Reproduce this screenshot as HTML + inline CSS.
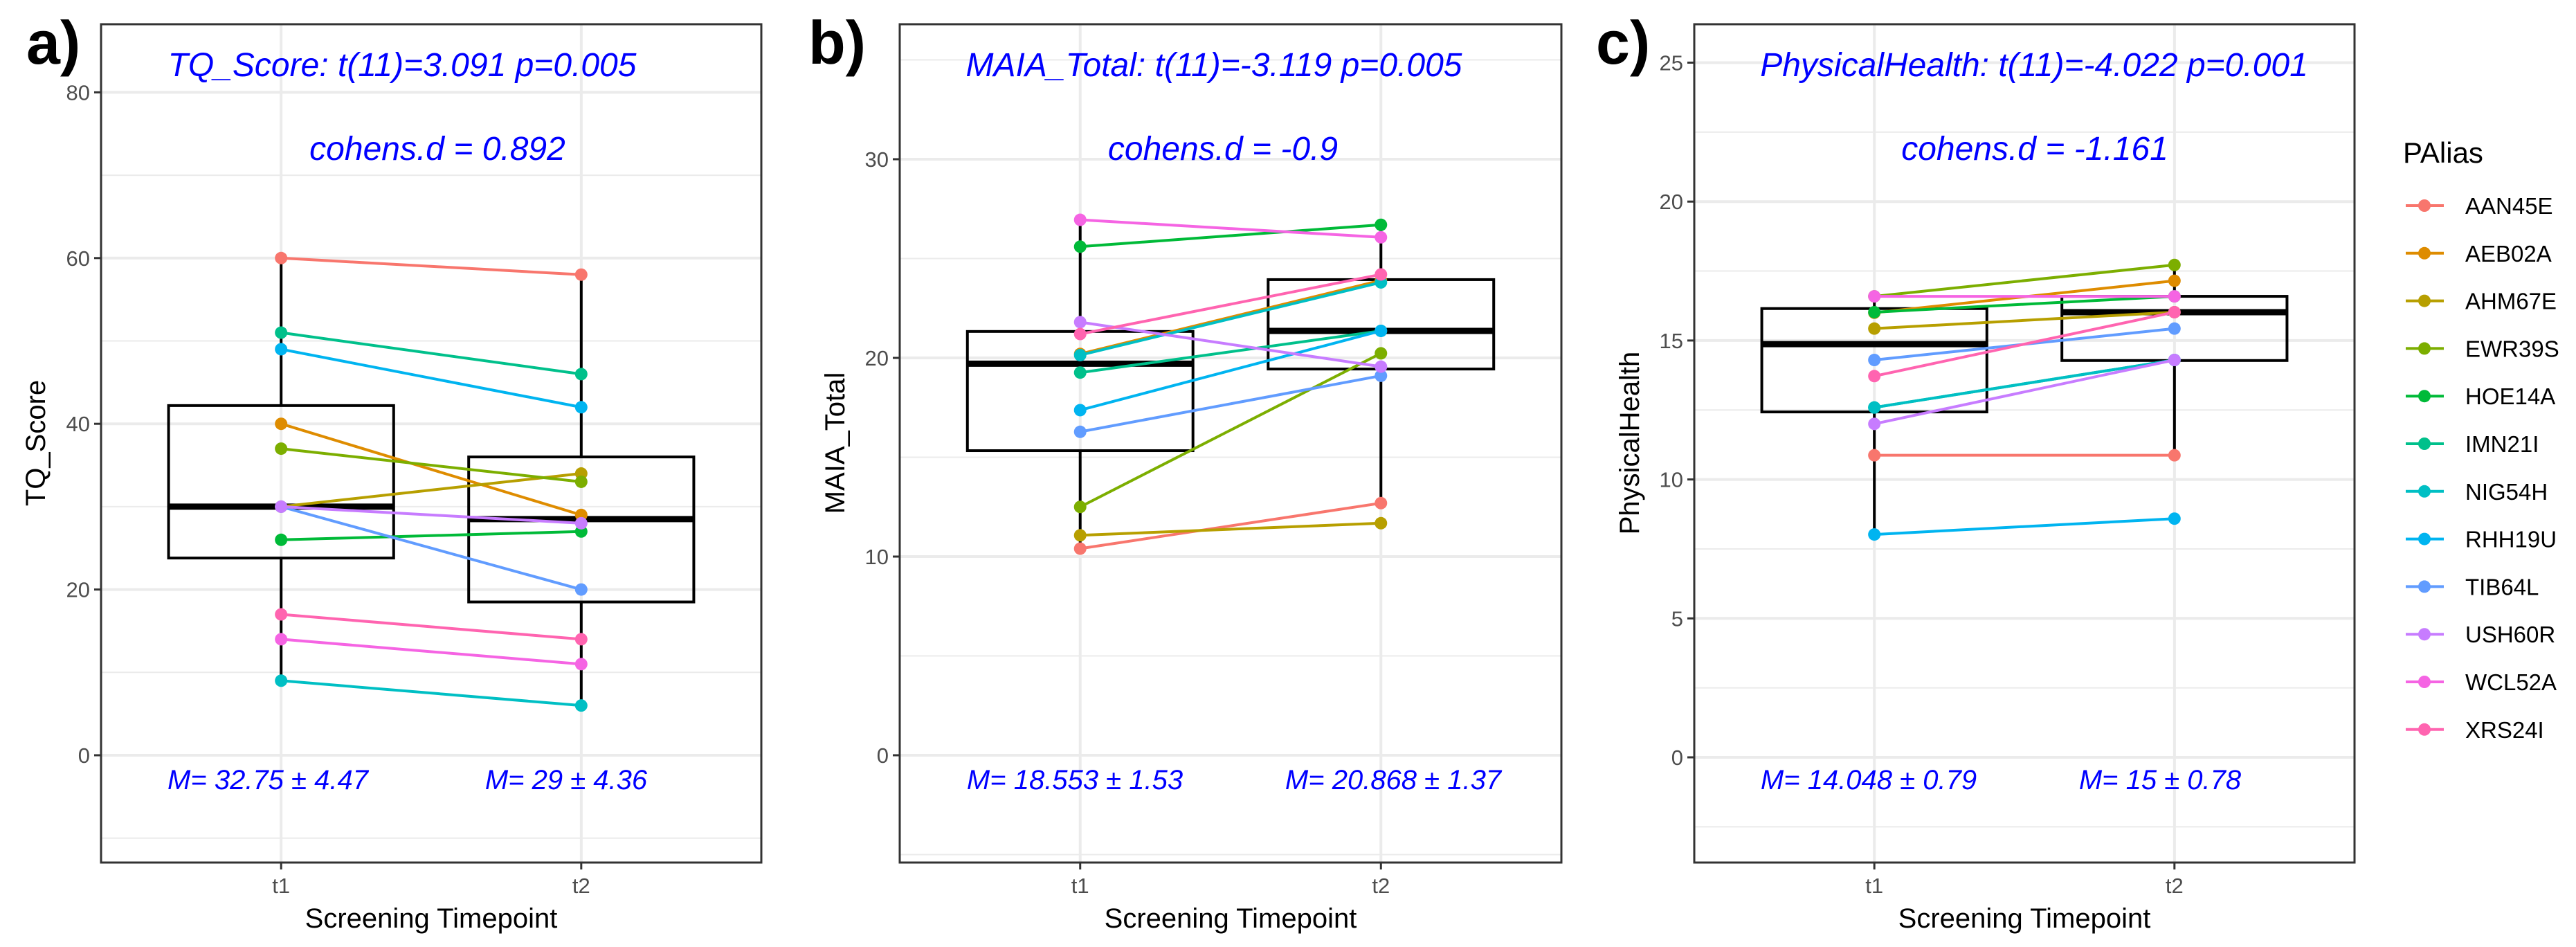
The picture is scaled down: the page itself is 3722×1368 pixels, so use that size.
<!DOCTYPE html>
<html><head><meta charset="utf-8"><style>
html,body{margin:0;padding:0;background:#fff}
svg{display:block;font-family:"Liberation Sans",Arial,sans-serif}
</style></head><body>
<svg id="chart" width="3722" height="1368" viewBox="0 0 3722 1368" xmlns="http://www.w3.org/2000/svg"></svg>
<script>
const participants=["AAN45E","AEB02A","AHM67E","EWR39S","HOE14A","IMN21I","NIG54H","RHH19U","TIB64L","USH60R","WCL52A","XRS24I"];
const colors=["#F8766D","#DE8C00","#B79F00","#7CAE00","#00BA38","#00C08B","#00BFC4","#00B4F0","#619CFF","#C77CFF","#F564E3","#FF64B0"];
const timepoints=["t1","t2"];
// Panel a: TQ_Score
const tqT1=[60,40,30,37,26,51,9,49,30,30,14,17];
const tqT2=[58,29,34,33,27,46,6,42,20,28,11,14];
const tqBox=[[9,23.8,30,42.2,60],[6,18.5,28.5,36,58]];
const tqTicks=[0,20,40,60,80];
// Panel b: MAIA_Total
const maiaT1=[10.4,20.2,11.07,12.5,25.6,19.26,20.14,17.37,16.28,21.8,26.95,21.2];
const maiaT2=[12.69,23.9,11.68,20.23,26.7,21.36,23.8,21.36,19.1,19.56,26.07,24.2];
const maiaBox=[[10.4,15.33,19.71,21.33,26.95],[12.69,19.44,21.36,23.94,26.7]];
const maiaTicks=[0,10,20,30];
// Panel c: PhysicalHealth
const phT1=[10.87,16.0,15.43,16.59,16.02,12.59,12.59,8.02,14.3,12.0,16.59,13.72];
const phT2=[10.87,17.15,16.02,17.72,16.59,14.3,14.3,8.59,15.43,14.3,16.59,16.02];
const phBox=[[8.02,12.43,14.87,16.15,16.59],[10.87,14.28,16.02,16.59,17.72]];
const phTicks=[0,5,10,15,20,25];

const NS="http://www.w3.org/2000/svg";
const svg=document.getElementById('chart');
function mk(tag,attrs,parent,txt){const e=document.createElementNS(NS,tag);for(const k in attrs)e.setAttribute(k,attrs[k]);if(txt!==undefined)e.textContent=txt;(parent||svg).appendChild(e);return e;}

const TOP=35,BOT=1246;
const panels=[
 {id:'a',label:'a)',labelX:38,left:146,right:1100,y0:1091,ppu:11.97,t1:tqT1,t2:tqT2,box:tqBox,ticks:tqTicks,minor:10,yTitle:'TQ_Score',yTitleX:51,
  title:'TQ_Score: t(11)=3.091 p=0.005',titleX:581,cohen:'cohens.d = 0.892',cohenX:632,m1:'M= 32.75 ± 4.47',m1X:387,m2:'M= 29 ± 4.36',m2X:818},
 {id:'b',label:'b)',labelX:1168,left:1300,right:2256,y0:1091,ppu:28.7,t1:maiaT1,t2:maiaT2,box:maiaBox,ticks:maiaTicks,minor:5,yTitle:'MAIA_Total',yTitleX:1206,
  title:'MAIA_Total: t(11)=-3.119 p=0.005',titleX:1754,cohen:'cohens.d = -0.9',cohenX:1767,m1:'M= 18.553 ± 1.53',m1X:1553,m2:'M= 20.868 ± 1.37',m2X:2013},
 {id:'c',label:'c)',labelX:2306,left:2448,right:3402,y0:1094,ppu:40.14,t1:phT1,t2:phT2,box:phBox,ticks:phTicks,minor:2.5,yTitle:'PhysicalHealth',yTitleX:2354,
  title:'PhysicalHealth: t(11)=-4.022 p=0.001',titleX:2939,cohen:'cohens.d = -1.161',cohenX:2940,m1:'M= 14.048 ± 0.79',m1X:2700,m2:'M= 15 ± 0.78',m2X:3121}
];

panels.forEach(p=>{
 const g=mk('g',{});
 
 
 const y=v=>p.y0-v*p.ppu;
 const W=p.right-p.left;
 const x=i=>p.left+W*(0.6+i)/2.2;
 const bw=W*0.75/2.2;
 const vmin=(p.y0-BOT)/p.ppu, vmax=(p.y0-TOP)/p.ppu;
 for(let v=Math.ceil(vmin/p.minor)*p.minor; v<=vmax; v+=p.minor){
   const isMajor=p.ticks.some(t=>Math.abs(t-v)<1e-6);
   const l=mk('line',{x1:p.left,x2:p.right,y1:y(v),y2:y(v),stroke:'#EBEBEB','stroke-width':isMajor?4:2},g);
   
   
 }
 timepoints.forEach((t,i)=>{
   const l=mk('line',{x1:x(i),x2:x(i),y1:TOP,y2:BOT,stroke:'#EBEBEB','stroke-width':4},g);
   
   
 });
 p.box.forEach((b,i)=>{
   const bg=mk('g',{},g);
   
   
   mk('line',{x1:x(i),x2:x(i),y1:y(b[0]),y2:y(b[1]),stroke:'#000','stroke-width':4},bg);
   mk('line',{x1:x(i),x2:x(i),y1:y(b[3]),y2:y(b[4]),stroke:'#000','stroke-width':4},bg);
   mk('rect',{x:x(i)-bw/2,y:y(b[3]),width:bw,height:y(b[1])-y(b[3]),fill:'none',stroke:'#000','stroke-width':4},bg);
   mk('line',{x1:x(i)-bw/2,x2:x(i)+bw/2,y1:y(b[2]),y2:y(b[2]),stroke:'#000','stroke-width':9},bg);
 });
 participants.forEach((n,k)=>{
   const sg=mk('g',{},g);
   
   
   mk('line',{x1:x(0),y1:y(p.t1[k]),x2:x(1),y2:y(p.t2[k]),stroke:colors[k],'stroke-width':4},sg);
   mk('circle',{cx:x(0),cy:y(p.t1[k]),r:9,fill:colors[k]},sg);
   mk('circle',{cx:x(1),cy:y(p.t2[k]),r:9,fill:colors[k]},sg);
 });
 const br=mk('rect',{x:p.left,y:TOP,width:W,height:BOT-TOP,fill:'none',stroke:'#333','stroke-width':3},g);
 
 
 p.ticks.forEach(t=>{
   mk('line',{x1:p.left-10,x2:p.left,y1:y(t),y2:y(t),stroke:'#333','stroke-width':3},g);
   const tl=mk('text',{x:p.left-16,y:y(t)+11,'text-anchor':'end','font-size':31,fill:'#4D4D4D'},g,String(t));
   
   
 });
 timepoints.forEach((t,i)=>{
   mk('line',{x1:x(i),x2:x(i),y1:BOT,y2:BOT+10,stroke:'#333','stroke-width':3},g);
   const tl=mk('text',{x:x(i),y:1290,'text-anchor':'middle','font-size':31,fill:'#4D4D4D'},g,t);
   
   
 });
 const xt=mk('text',{x:(p.left+p.right)/2,y:1340,'text-anchor':'middle','font-size':40,fill:'#000'},g,'Screening Timepoint');
 
 
 const yt=mk('text',{x:p.yTitleX,y:640,'text-anchor':'middle','font-size':40,fill:'#000',transform:`rotate(-90 ${p.yTitleX} 640)`,dy:14},g,p.yTitle);
 
 
 const an={'font-size':48,fill:'#0000FF','font-style':'italic','text-anchor':'middle'};
 const t1=mk('text',Object.assign({x:p.titleX,y:110},an),g,p.title);
 
 
 const t2=mk('text',Object.assign({x:p.cohenX,y:231},an),g,p.cohen);
 
 
 const an2=Object.assign({},an,{'font-size':40});
 const m1=mk('text',Object.assign({x:p.m1X,y:1140},an2),g,p.m1);
 
 
 const m2=mk('text',Object.assign({x:p.m2X,y:1140},an2),g,p.m2);
 
 
 const pl=mk('text',{x:p.labelX,y:92,'font-size':88,'font-weight':'bold',fill:'#000'},g,p.label);
 
 
});

const lg=mk('g',{});


const lt=mk('text',{x:3472,y:235,'font-size':42,fill:'#000'},lg,'PAlias');


participants.forEach((n,k)=>{
  const cy=297+k*68.8;
  const e=mk('g',{},lg);
  
  
  mk('line',{x1:3476,x2:3531,y1:cy,y2:cy,stroke:colors[k],'stroke-width':4},e);
  mk('circle',{cx:3503,cy:cy,r:9,fill:colors[k]},e);
  mk('text',{x:3562,y:cy+12,'font-size':33,fill:'#000'},e,n);
});
</script>
</body></html>
